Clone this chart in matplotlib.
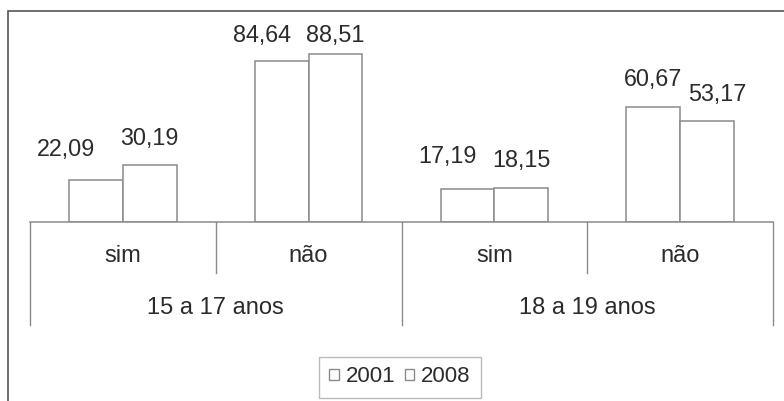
import matplotlib
matplotlib.use("Agg")
import matplotlib.pyplot as plt
from matplotlib.patches import Rectangle, Patch
import numpy as np

plt.rcParams['font.family'] = ['Liberation Sans', 'DejaVu Sans']

# ---- data ----
subcats = ["sim", "não", "sim", "não"]
groups = ["15 a 17 anos", "18 a 19 anos"]
series_names = ["2001", "2008"]
v2001 = [22.09, 84.64, 17.19, 60.67]
v2008 = [30.19, 88.51, 18.15, 53.17]
labels2001 = ["22,09", "84,64", "17,19", "60,67"]
labels2008 = ["30,19", "88,51", "18,15", "53,17"]

# ---- styling / layout ----
W, H = 784, 401
fig = plt.figure(figsize=(W / 100, H / 100), dpi=100)
fig.patch.set_facecolor("white")

ax_left, ax_right, ax_base, ax_top = 30, 773, 222, 11
ax = fig.add_axes([ax_left / W, (H - ax_base) / H, (ax_right - ax_left) / W, (ax_base - ax_top) / H])
ax.set_facecolor("none")
for s in ax.spines.values():
    s.set_visible(False)
ax.set_xticks([])
ax.set_yticks([])

px_per_unit = 1.898
ymax = (ax_base - ax_top) / px_per_unit
ax.set_ylim(0, ymax)
ax.set_xlim(-0.5, len(subcats) - 0.5)

edge = "#8a8a8a"
txt = "#2b2b2b"
fs_val = 16.8
fs_cat = 17.0
fs_leg = 16.0
bw = 0.29
x = np.arange(len(subcats))
b1 = ax.bar(x - bw / 2, v2001, bw, facecolor="white", edgecolor=edge, linewidth=1.1)
b2 = ax.bar(x + bw / 2, v2008, bw, facecolor="white", edgecolor=edge, linewidth=1.1)

# label nudges in pixels (dx, dy to text centre above bar top)
nudge1 = [(-30, 31), (-20, 26), (-20, 33), (0, 27)]
nudge2 = [(0, 26), (0, 19), (0, 27), (10, 27)]
for bars, labs, nud in ((b1, labels2001, nudge1), (b2, labels2008, nudge2)):
    for r, lab, (dx, dy) in zip(bars, labs, nud):
        ax.annotate(lab, (r.get_x() + r.get_width() / 2, r.get_height()),
                    xytext=(dx * 0.72, dy * 0.72), textcoords="offset points",
                    ha="center", va="center", fontsize=fs_val, color=txt)

# category table below axis
axh = ax_base - ax_top
tr = ax.get_xaxis_transform()
def fy(py):
    return -(py - ax_base) / axh

ax.plot([-0.5, len(subcats) - 0.5], [0, 0], color=edge, lw=1.1, transform=tr, clip_on=False)
for i in range(len(subcats) + 1):
    xp = i - 0.5
    bottom = 325 if i % 2 == 0 else 273
    ax.plot([xp, xp], [0, fy(bottom)], color=edge, lw=1.0, transform=tr, clip_on=False)
for i, s in enumerate(subcats):
    ax.text(i, fy(256), s, ha="center", va="center", fontsize=fs_cat, color=txt, transform=tr)
for g, name in enumerate(groups):
    ax.text(2 * g + 0.5, fy(308), name, ha="center", va="center", fontsize=fs_cat, color=txt, transform=tr)

# figure border
fig.patches.append(Rectangle((8 / W, -0.1), 1.2, (H - 11) / H + 0.1, transform=fig.transFigure,
                             facecolor="none", edgecolor="#555555", lw=1.2))

# legend
handles = [Patch(facecolor="white", edgecolor=edge, lw=1.0, label=n) for n in series_names]
leg = fig.legend(handles=handles, loc="center", bbox_to_anchor=(400 / W, (H - 377) / H), ncol=2,
                 fontsize=fs_leg, frameon=True, fancybox=False, edgecolor="#aaaaaa",
                 handlelength=0.42, handleheight=0.42, handletextpad=0.3, columnspacing=0.45,
                 borderpad=0.45, labelcolor=txt)
leg.get_frame().set_linewidth(1.0)

fig.savefig("out.png", dpi=100, facecolor="white")
